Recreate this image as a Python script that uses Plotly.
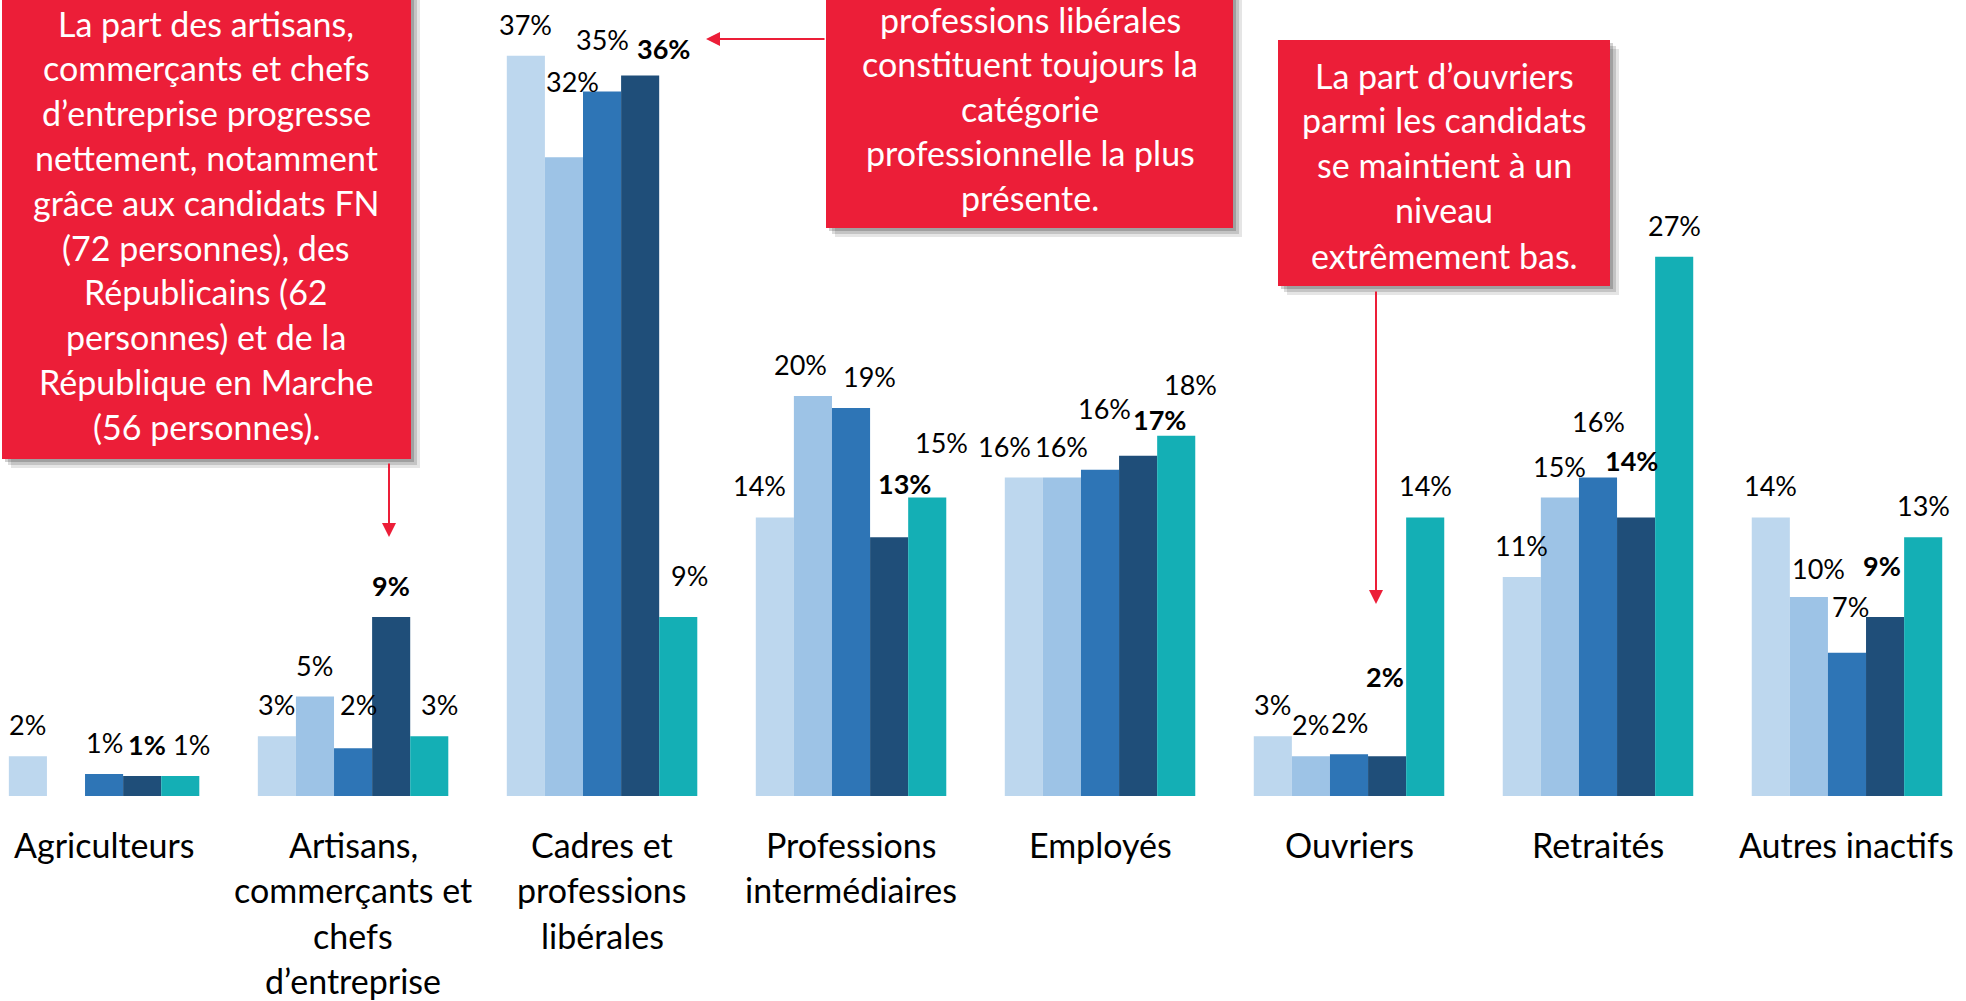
import plotly.graph_objects as go

# ---------------- data ----------------
categories = ["Agriculteurs",
              "Artisans, commerçants et chefs d’entreprise",
              "Cadres et professions libérales",
              "Professions intermédiaires",
              "Employés", "Ouvriers", "Retraités", "Autres inactifs"]
category_lines = [["Agriculteurs"],
                  ["Artisans,", "commerçants et", "chefs", "d’entreprise"],
                  ["Cadres et", "professions", "libérales"],
                  ["Professions", "intermédiaires"],
                  ["Employés"], ["Ouvriers"], ["Retraités"], ["Autres inactifs"]]

series_names = ["Série 1", "Série 2", "Série 3", "Série 4", "Série 5"]
values_1 = [2.0, 3.0, 37.2, 14.0, 16.0, 3.0, 11.0, 14.0]
values_2 = [None, 5.0, 32.1, 20.1, 16.0, 2.0, 15.0, 10.0]
values_3 = [1.1, 2.4, 35.4, 19.5, 16.4, 2.1, 16.0, 7.2]
values_4 = [1.0, 9.0, 36.2, 13.0, 17.1, 2.0, 14.0, 9.0]
values_5 = [1.0, 3.0, 9.0, 15.0, 18.1, 14.0, 27.1, 13.0]

labels_1 = ["2%", "3%", "37%", "14%", "16%", "3%", "11%", "14%"]
labels_2 = ["", "5%", "32%", "20%", "16%", "2%", "15%", "10%"]
labels_3 = ["1%", "2%", "35%", "19%", "16%", "2%", "16%", "7%"]
labels_4 = ["1%", "9%", "36%", "13%", "17%", "2%", "14%", "9%"]
labels_5 = ["1%", "3%", "9%", "15%", "18%", "14%", "27%", "13%"]

box_left_lines = ["La part des artisans,", "commerçants et chefs",
                  "d’entreprise progresse", "nettement, notamment",
                  "grâce aux candidats FN", "(72 personnes), des",
                  "Républicains (62", "personnes) et de la",
                  "République en Marche", "(56 personnes)."]
box_mid_lines = ["professions libérales", "constituent toujours la",
                 "catégorie", "professionnelle la plus", "présente."]
box_right_lines = ["La part d’ouvriers", "parmi les candidats",
                   "se maintient à un", "niveau", "extrêmement bas."]

# ---------------- styling ----------------
colors = ["#BDD7EE", "#9DC3E6", "#2E75B6", "#1F4E79", "#14AFB5"]
RED = "#EC1E38"
FONT = "Lato"
W, H = 1966, 1001
PLOT_H = 796
BARGAP = 0.235

# hand placement of individual value labels, as in the original
# key: (series index, category index) -> (pixels right, pixels up)
label_nudge = {
    (3, 0): (5, 0), (4, 0): (11, 0),
    (2, 1): (5, 12), (4, 1): (10, 0),
    (1, 2): (9, 44), (2, 2): (0, 21), (3, 2): (23, -4), (4, 2): (11, 10),
    (0, 3): (-15, 0), (1, 3): (-12, 0), (2, 3): (18, 0), (3, 3): (15, 22), (4, 3): (14, 24),
    (0, 4): (-19, 0), (2, 4): (4, 30), (3, 4): (21, 5), (4, 4): (14, 20),
    (3, 5): (-2, 48),
    (2, 6): (0, 25), (3, 6): (-5, 25),
    (1, 7): (10, -3), (2, 7): (4, 15), (3, 7): (-3, 20),
}


def X(px):
    return px / W


def Y(px):
    return 1 - px / PLOT_H


values = [values_1, values_2, values_3, values_4, values_5]
labels = [labels_1, labels_2, labels_3, labels_4, labels_5]

fig = go.Figure()
for i in range(5):
    fig.add_trace(go.Bar(x=list(range(len(categories))), y=values[i],
                         name=series_names[i], marker_color=colors[i],
                         marker_line_width=0, hovertext=categories))

annotations = []
n = 5
w = (1 - BARGAP) / n
for i in range(n):
    for j, lab in enumerate(labels[i]):
        if not lab or values[i][j] is None:
            continue
        dx, dy = label_nudge.get((i, j), (0, 0))
        annotations.append(dict(
            x=j + (i - (n - 1) / 2) * w, y=values[i][j], xref="x", yref="y",
            text=lab, showarrow=False, xanchor="center", yanchor="bottom",
            xshift=dx, yshift=13 + dy,
            font=dict(family=FONT, size=27, color="#000000",
                      weight="bold" if i == 3 else "normal")))

# category labels
for j, lines in enumerate(category_lines):
    for k, line in enumerate(lines):
        annotations.append(dict(x=j, y=Y(844 + k * 45.5), xref="x", yref="paper",
                                text=line, showarrow=False, xanchor="center",
                                yanchor="middle",
                                font=dict(family=FONT, size=34, color="#000000")))

shapes = []
boxes = [((2, -30, 411, 459), box_left_lines, 206, 23, 44.8),
         ((826, -30, 1233, 228), box_mid_lines, 1030, 19, 44.5),
         ((1278, 40, 1610, 286), box_right_lines, 1444, 75, 45.0)]
for (x0, y0, x1, y1), lines, cx, ly0, dy in boxes:
    for off, alpha in ((9, 0.10), (6, 0.14), (3, 0.18)):
        shapes.append(dict(type="rect", xref="paper", yref="paper",
                           x0=X(x0 + off), x1=X(x1 + off), y0=Y(y1 + off), y1=Y(y0 + off),
                           fillcolor=f"rgba(0,0,0,{alpha})", line_width=0, layer="above"))
    shapes.append(dict(type="rect", xref="paper", yref="paper",
                       x0=X(x0), x1=X(x1), y0=Y(y1), y1=Y(y0),
                       fillcolor=RED, line_width=0, layer="above"))
    for k, line in enumerate(lines):
        annotations.append(dict(x=X(cx), y=Y(ly0 + k * dy), xref="paper", yref="paper",
                                text=line, showarrow=False, xanchor="center",
                                yanchor="middle",
                                font=dict(family=FONT, size=34, color="#FFFFFF")))

# arrows (tip, tail in pixels)
arrows = [((389, 537), (389, 462)),
          ((706, 39), (826, 39)),
          ((1376, 604), (1376, 290))]
for (tx, ty), (sx, sy) in arrows:
    annotations.append(dict(x=X(tx), y=Y(ty), xref="paper", yref="paper",
                            ax=sx - tx, ay=sy - ty, axref="pixel", ayref="pixel",
                            text="", showarrow=True, arrowhead=2, arrowsize=1.4,
                            arrowwidth=2, arrowcolor=RED))

fig.update_layout(
    width=W, height=H, autosize=False,
    margin=dict(l=0, r=0, t=0, b=H - PLOT_H, pad=0),
    barmode="group", bargap=BARGAP, bargroupgap=0,
    plot_bgcolor="white", paper_bgcolor="white",
    showlegend=False,
    xaxis=dict(range=[-0.418, 7.478], showticklabels=False, showgrid=False,
               zeroline=False, showline=False, ticks=""),
    yaxis=dict(range=[0, 40], visible=False),
    annotations=annotations, shapes=shapes,
    font=dict(family=FONT),
)

fig.write_html("out.html",
               config={"displayModeBar": False},
               post_script="document.body.style.margin='0';document.body.style.overflow='hidden';")
